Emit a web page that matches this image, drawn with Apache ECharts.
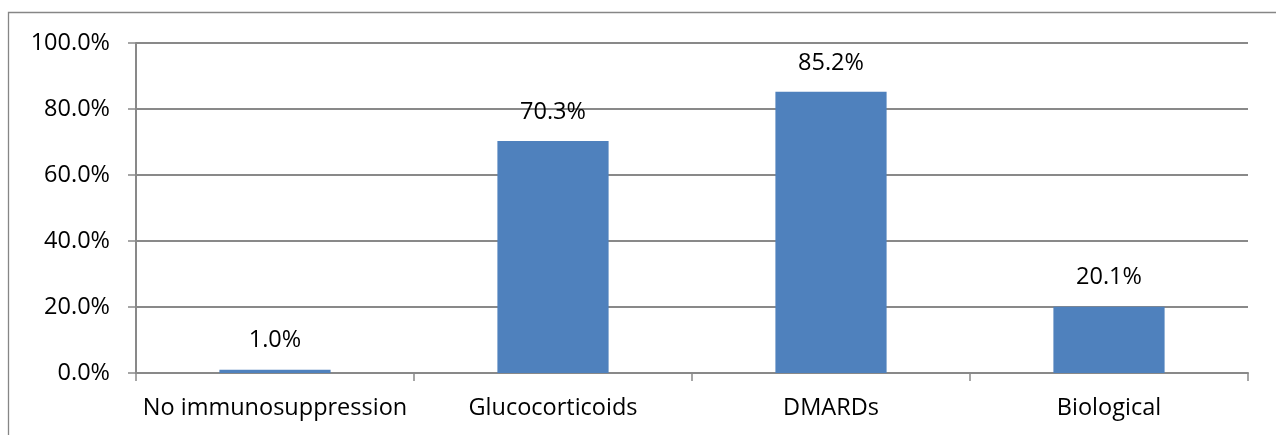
<!DOCTYPE html>
<html>
<head>
<meta charset="utf-8">
<script src="https://cdn.jsdelivr.net/npm/echarts@6/dist/echarts.min.js"></script>
<style>html,body{margin:0;padding:0;background:#fff}#c{width:1276px;height:435px}</style>
</head>
<body>
<div id="c"></div>
<script>
const categories = ['No immunosuppression', 'Glucocorticoids', 'DMARDs', 'Biological'];
const values = [1.0, 70.3, 85.2, 20.1];
const yTicks = { min: 0, max: 100, interval: 20 };

const chart = echarts.init(document.getElementById('c'), null, { renderer: 'canvas' });
const font = '"Open Sans", Lato, sans-serif';
const lineColor = '#898989';
chart.setOption({
  animation: false,
  graphic: [{
    type: 'polyline',
    shape: { points: [[8.5, 435], [8.5, 12.5], [1276, 12.5]] },
    style: { stroke: '#868686', lineWidth: 1.3, fill: null }
  }],
  grid: { left: 136, top: 43, right: 28, bottom: 62 },
  xAxis: {
    type: 'category',
    data: categories,
    axisLine: { lineStyle: { color: lineColor, width: 2 } },
    axisTick: { show: true, length: 8, interval: 0, alignWithLabel: false, lineStyle: { color: lineColor, width: 1.5 } },
    axisLabel: { color: '#000', fontSize: 23.5, fontFamily: font, margin: 23, interval: 0 }
  },
  yAxis: {
    type: 'value',
    min: yTicks.min, max: yTicks.max, interval: yTicks.interval,
    axisLine: { show: true, lineStyle: { color: lineColor, width: 2 } },
    axisTick: { show: true, length: 8, lineStyle: { color: lineColor, width: 1.5 } },
    splitLine: { show: true, lineStyle: { color: lineColor, width: 2 } },
    axisLabel: { color: '#000', fontSize: 23.5, fontFamily: font, margin: 26,
      formatter: v => v.toFixed(1) + '%' }
  },
  series: [{
    type: 'bar',
    data: values,
    barCategoryGap: '60%',
    itemStyle: { color: '#4F81BD' },
    label: { show: true, position: 'top', distance: 17, color: '#000',
      fontSize: 23.5, fontFamily: font, formatter: p => p.value.toFixed(1) + '%' }
  }]
});
</script>
</body>
</html>
